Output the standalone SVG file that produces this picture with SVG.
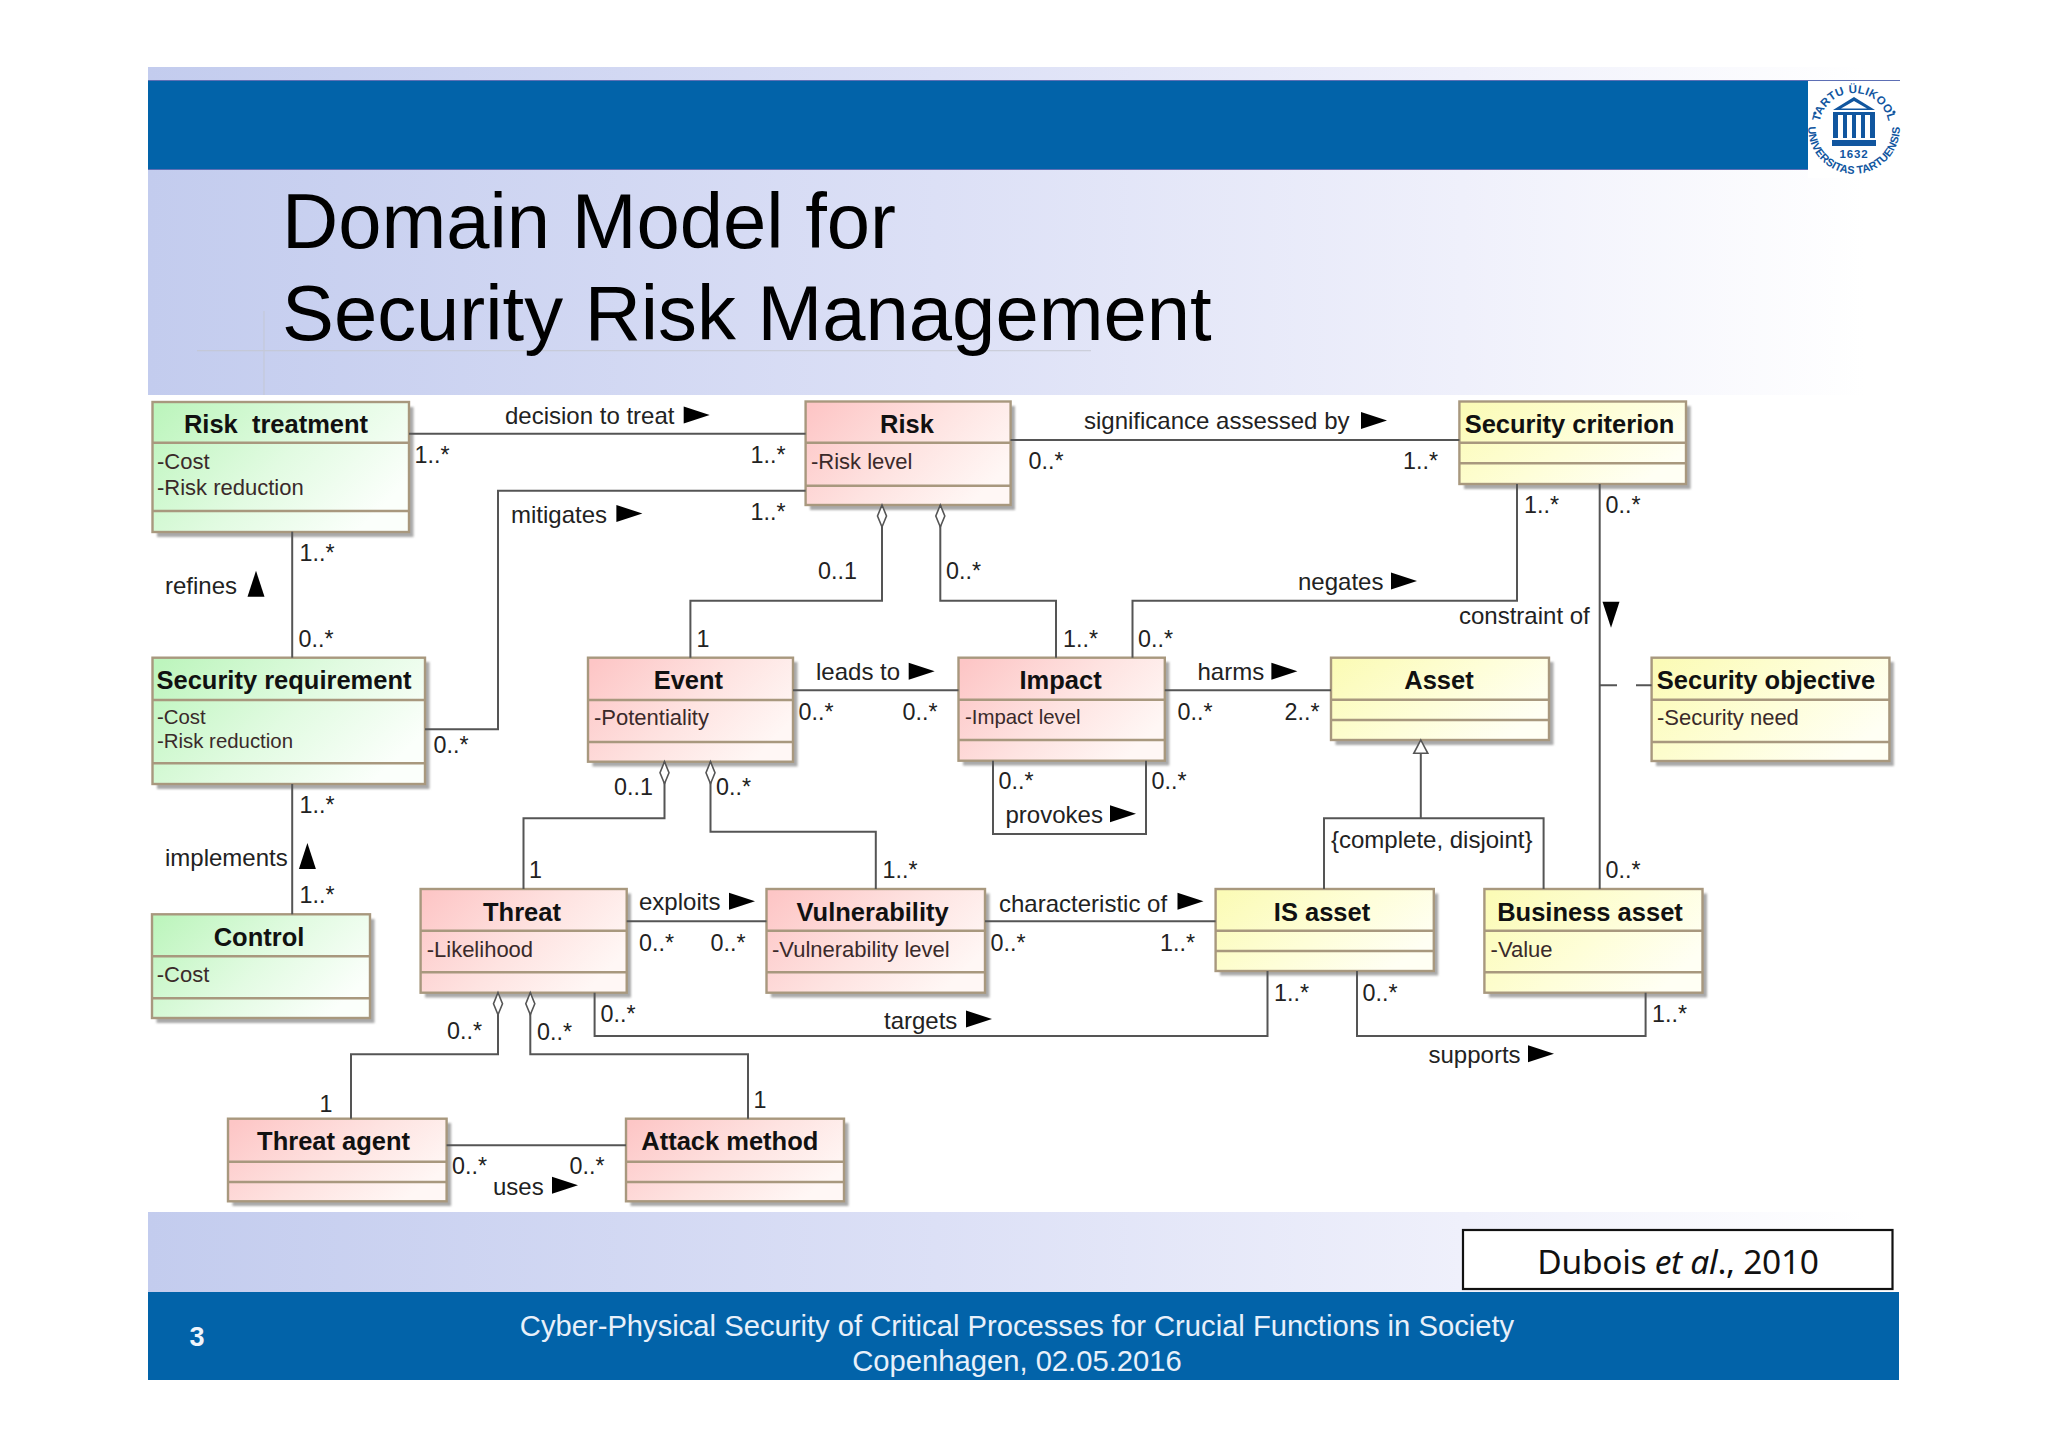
<svg xmlns="http://www.w3.org/2000/svg" width="2048" height="1447" viewBox="0 0 2048 1447">
<style>
text{font-family:"Liberation Sans",Arial,sans-serif;fill:#222}
.t{font-size:25.5px;font-weight:bold;fill:#111;text-anchor:middle}
.a{font-size:22px;fill:#3a2a2a}
.as{font-size:20.4px;fill:#3a2a2a}
.l{font-size:24px}
.m{font-size:23.3px}
.box{stroke:#a8987e;stroke-width:2.4}
.div{stroke:#a8987e;stroke-width:2.4;fill:none}
.sh{fill:#a9a9a9}
.c{fill:none;stroke:#555;stroke-width:2}
.g{fill:url(#gg)} .p{fill:url(#pp)} .y{fill:url(#yy)}
.d{fill:#fff;stroke:#555;stroke-width:1.6}
.logo{fill:#11569f;font-weight:bold}
.ft{font-size:29.2px;fill:#e8f0fa;text-anchor:middle}
</style>
<defs>
<linearGradient id="bg" x1="0" x2="1" y1="0" y2="0"><stop offset="0" stop-color="#c3ccee"/><stop offset=".45" stop-color="#dce0f6"/><stop offset=".75" stop-color="#eff0fb"/><stop offset=".98" stop-color="#fff"/></linearGradient>
<linearGradient id="gg" x1="0" x2="1" y1="0.1" y2="0.6"><stop offset="0" stop-color="#bdf5bd"/><stop offset=".55" stop-color="#e2fbe2"/><stop offset="1" stop-color="#fbfffb"/></linearGradient>
<linearGradient id="pp" x1="0" x2="1" y1="0.1" y2="0.6"><stop offset="0" stop-color="#fdc6c6"/><stop offset=".55" stop-color="#fee3e1"/><stop offset="1" stop-color="#fff7f5"/></linearGradient>
<linearGradient id="yy" x1="0" x2="1" y1="0.1" y2="0.6"><stop offset="0" stop-color="#fbfbb6"/><stop offset=".55" stop-color="#fefed8"/><stop offset="1" stop-color="#fffff4"/></linearGradient>
<path id="tri" d="M0,-8.5L26,0L0,8.5Z" fill="#000"/>
<filter id="bl" x="-5%" y="-5%" width="110%" height="110%"><feGaussianBlur stdDeviation="1"/></filter>
<path id="topArc" d="M1819,128A35,35 0 0 1 1889,128"/>
<path id="botArc" d="M1808.900,120A45.800,45.800 0 1 0 1899.100,120"/>
</defs>
<rect width="2048" height="1447" fill="#fff"/>
<g id="slide">
<rect x="148" y="67" width="1752" height="328" fill="url(#bg)"/>
<rect x="148" y="1212" width="1752" height="80" fill="url(#bg)"/>
<path d="M197,350.700H1091M264,311V395" stroke="#c3c6cf" stroke-width="1.200" fill="none" opacity=".7"/>
<rect x="148" y="81" width="1660" height="88" fill="#0263a9"/>
<path d="M148,80.500H1900M148,169.500H1808" stroke="#5d6fb5" stroke-width="1.200" fill="none"/>
<rect x="148" y="1292" width="1751" height="88" fill="#0263a9"/>
<text x="282" y="248" font-size="77.800" style="fill:#000">Domain Model for</text>
<text x="282" y="340" font-size="77.800" style="fill:#000">Security Risk Management</text>
<text x="197" y="1346" font-size="27" font-weight="bold" text-anchor="middle" style="fill:#f0f5fb">3</text>
<text class="ft" x="1017" y="1336">Cyber-Physical Security of Critical Processes for Crucial Functions in Society</text>
<text class="ft" x="1017" y="1371">Copenhagen, 02.05.2016</text>
<rect x="1463" y="1230" width="429.500" height="59" fill="#fff" stroke="#111" stroke-width="2.200"/>
<text x="1678" y="1274" font-size="33.500" text-anchor="middle" letter-spacing="-.3" style="font-family:'Noto Sans','DejaVu Sans',sans-serif;fill:#111">Dubois <tspan font-style="italic">et al</tspan>., 2010</text>
</g>
<g id="logo">
<rect x="1808" y="82" width="92" height="96" fill="#fff"/>
<text class="logo" font-size="11.500" letter-spacing=".3"><textPath href="#topArc" startOffset="50%" text-anchor="middle">TARTU ÜLIKOOL</textPath></text>
<text class="logo" font-size="11"><textPath href="#botArc" startOffset="50%" text-anchor="middle">UNIVERSITAS TARTUENSIS</textPath></text>
<circle cx="1815" cy="113" r="1.600" fill="#11569f"/><circle cx="1894" cy="112" r="1.600" fill="#11569f"/>
<path d="M1854,97L1875,110H1833ZM1854,101L1841,108.500H1867Z" fill="#11569f" fill-rule="evenodd"/>
<path d="M1833,112h42v3h-42zM1833,115h5v23h-5zM1843,115h4v23h-4zM1852,115h4v23h-4zM1861,115h4v23h-4zM1870,115h5v23h-5zM1832,140h44v6h-44z" fill="#11569f"/>
<text class="logo" x="1854" y="157.500" font-size="11.500" text-anchor="middle" letter-spacing=".8">1632</text>
</g>
<g id="risk-treatment">
<rect class="sh" x="157" y="407" width="256.500" height="130" filter="url(#bl)"/>
<rect class="box g" x="152.500" y="402" width="256.500" height="130"/>
<path class="div" d="M152.500,442.700H409M152.500,511H409"/>
<text class="t" x="276" y="432.700" xml:space="preserve">Risk  treatment</text>
<text class="a" x="157" y="469">-Cost</text><text class="a" x="157" y="495">-Risk reduction</text>
</g>
<g id="risk">
<rect class="sh" x="810" y="406" width="205" height="104" filter="url(#bl)"/>
<rect class="box p" x="805.600" y="401.500" width="205" height="103.500"/>
<path class="div" d="M805.600,442.700H1010.500M805.600,485.700H1010.500"/>
<text class="t" x="907" y="432.700">Risk</text>
<text class="a" x="811" y="469">-Risk level</text>
</g>
<g id="security-criterion">
<rect class="sh" x="1464" y="406" width="226.600" height="83" filter="url(#bl)"/>
<rect class="box y" x="1459.400" y="401.500" width="226.600" height="82.500"/>
<path class="div" d="M1459.400,442.700H1686M1459.400,463.300H1686"/>
<text class="t" x="1569.500" y="432.700">Security criterion</text>
</g>
<g id="security-requirement">
<rect class="sh" x="157" y="662" width="272.500" height="127" filter="url(#bl)"/>
<rect class="box g" x="152.500" y="657.700" width="272.500" height="126.300"/>
<path class="div" d="M152.500,700H425M152.500,763.300H425"/>
<text class="t" x="284" y="688.800">Security requirement</text>
<text class="as" x="157" y="724">-Cost</text><text class="as" x="157" y="747.700">-Risk reduction</text>
</g>
<g id="event">
<rect class="sh" x="592.500" y="662" width="205" height="104.500" filter="url(#bl)"/>
<rect class="box p" x="588" y="657.700" width="205" height="104"/>
<path class="div" d="M588,700H793M588,742H793"/>
<text class="t" x="688.400" y="688.800">Event</text>
<text class="a" x="594" y="725">-Potentiality</text>
</g>
<g id="impact">
<rect class="sh" x="963" y="662" width="206.300" height="103.500" filter="url(#bl)"/>
<rect class="box p" x="958.500" y="657.700" width="206.300" height="103"/>
<path class="div" d="M958.500,699.700H1164.800M958.500,740H1164.800"/>
<text class="t" x="1060.600" y="688.800">Impact</text>
<text class="as" x="965" y="724">-Impact level</text>
</g>
<g id="asset">
<rect class="sh" x="1335.500" y="662" width="218" height="83" filter="url(#bl)"/>
<rect class="box y" x="1331" y="657.700" width="218" height="82.300"/>
<path class="div" d="M1331,699.700H1549M1331,720H1549"/>
<text class="t" x="1439" y="688.800">Asset</text>
</g>
<g id="security-objective">
<rect class="sh" x="1656" y="662" width="237.800" height="104" filter="url(#bl)"/>
<rect class="box y" x="1651.600" y="657.700" width="237.800" height="103.300"/>
<path class="div" d="M1651.600,699.700H1889.400M1651.600,742H1889.400"/>
<text class="t" x="1766" y="688.800">Security objective</text>
<text class="a" x="1657" y="725">-Security need</text>
</g>
<g id="control">
<rect class="sh" x="156.500" y="919" width="218" height="104" filter="url(#bl)"/>
<rect class="box g" x="152" y="914.300" width="218" height="103.700"/>
<path class="div" d="M152,956.300H370M152,998.300H370"/>
<text class="t" x="259" y="945.500">Control</text>
<text class="a" x="156.800" y="981.700">-Cost</text>
</g>
<g id="threat">
<rect class="sh" x="425" y="893.500" width="206" height="104" filter="url(#bl)"/>
<rect class="box p" x="420.600" y="889" width="206.100" height="103.700"/>
<path class="div" d="M420.600,930.700H626.700M420.600,972.300H626.700"/>
<text class="t" x="522" y="920.500">Threat</text>
<text class="a" x="426.700" y="956.700">-Likelihood</text>
</g>
<g id="vulnerability">
<rect class="sh" x="771" y="893.500" width="218.500" height="104" filter="url(#bl)"/>
<rect class="box p" x="766.500" y="889" width="218.500" height="103.700"/>
<path class="div" d="M766.500,930.700H985M766.500,972.300H985"/>
<text class="t" x="872.600" y="920.500">Vulnerability</text>
<text class="a" x="772" y="956.700">-Vulnerability level</text>
</g>
<g id="is-asset">
<rect class="sh" x="1220" y="893.500" width="218.200" height="82" filter="url(#bl)"/>
<rect class="box y" x="1215.600" y="889" width="218.200" height="82"/>
<path class="div" d="M1215.600,930.700H1433.800M1215.600,951H1433.800"/>
<text class="t" x="1322" y="920.500">IS asset</text>
</g>
<g id="business-asset">
<rect class="sh" x="1489" y="893.500" width="218" height="104" filter="url(#bl)"/>
<rect class="box y" x="1484.400" y="889" width="218.100" height="103.700"/>
<path class="div" d="M1484.400,930.700H1702.500M1484.400,972.300H1702.500"/>
<text class="t" x="1590" y="920.500">Business asset</text>
<text class="a" x="1490.600" y="956.700">-Value</text>
</g>
<g id="threat-agent">
<rect class="sh" x="232.500" y="1123" width="218.600" height="83" filter="url(#bl)"/>
<rect class="box p" x="228" y="1118.700" width="218.600" height="82.600"/>
<path class="div" d="M228,1161.700H446.600M228,1182H446.600"/>
<text class="t" x="333.600" y="1150">Threat agent</text>
</g>
<g id="attack-method">
<rect class="sh" x="630.500" y="1123" width="218" height="83" filter="url(#bl)"/>
<rect class="box p" x="626" y="1118.700" width="218" height="82.600"/>
<path class="div" d="M626,1161.700H844M626,1182H844"/>
<text class="t" x="729.800" y="1150">Attack method</text>
</g>
<g id="connectors">
<path class="c" d="M409,433.700H805.600"/>
<path class="c" d="M425,729.300H498V490.700H805.600"/>
<path class="c" d="M292.200,531.700V657.700"/>
<path class="c" d="M292.200,784V914.300"/>
<path class="c" d="M1010.500,440H1459.400"/>
<path class="c" d="M882,505V600.700H690.400V657.700"/>
<path class="c" d="M940.300,505V600.700H1056V657.700"/>
<path class="c" d="M1517,484V600.700H1132.500V657.700"/>
<path class="c" d="M1599.700,484V889"/>
<path class="c" d="M1599.700,685.300H1617M1636,685.300H1651.600"/>
<path class="c" d="M793,690.300H958.500"/>
<path class="c" d="M1164.800,690.300H1331"/>
<path class="c" d="M993,760.700V834H1146V760.700"/>
<path class="c" d="M1420.800,753.300V818.300M1324,889V818.300H1543.600V889"/>
<path class="c" d="M664.500,761.700V818.300H523.500V889"/>
<path class="c" d="M710.500,761.700V831.700H875.800V889"/>
<path class="c" d="M626.700,921.300H766.500"/>
<path class="c" d="M985,921.300H1215.600"/>
<path class="c" d="M594.600,992.700V1036H1267.500V971"/>
<path class="c" d="M1357,971V1036H1645.600V992.700"/>
<path class="c" d="M498,992.700V1054.300H351V1118.700"/>
<path class="c" d="M530.300,992.700V1054.300H748V1118.700"/>
<path class="c" d="M446.600,1145.300H626"/>
<use href="#tri" x="683.700" y="415"/>
<use href="#tri" x="616.400" y="513.500"/>
<use href="#tri" transform="translate(256,596.700) rotate(-90)"/>
<use href="#tri" transform="translate(307.400,869) rotate(-90)"/>
<use href="#tri" x="1361" y="420.500"/>
<use href="#tri" x="1391" y="581"/>
<use href="#tri" transform="translate(1611,601.700) rotate(90)"/>
<use href="#tri" x="908.700" y="671.300"/>
<use href="#tri" x="1271.400" y="671.300"/>
<use href="#tri" x="1110" y="813.800"/>
<use href="#tri" x="729" y="901.300"/>
<use href="#tri" x="552" y="1185.300"/>
<use href="#tri" x="1177.500" y="901.300"/>
<use href="#tri" x="966" y="1019"/>
<use href="#tri" x="1528" y="1053.700"/>
<path class="d" d="M882,505l4.500,11l-4.500,11l-4.500,-11Z"/>
<path class="d" d="M940.300,505l4.500,11l-4.500,11l-4.500,-11Z"/>
<path class="d" d="M664.500,761.700l4.500,11l-4.500,11l-4.500,-11Z"/>
<path class="d" d="M710.500,761.700l4.500,11l-4.500,11l-4.500,-11Z"/>
<path class="d" d="M498,992.700l4.500,11l-4.500,11l-4.500,-11Z"/>
<path class="d" d="M530.300,992.700l4.500,11l-4.500,11l-4.500,-11Z"/>
<path class="d" d="M1420.800,740l7,13.300h-14Z"/>
<text class="l" x="505" y="423.500">decision to treat</text>
<text class="l" x="511" y="523">mitigates</text>
<text class="l" x="165" y="594">refines</text>
<text class="l" x="165" y="866">implements</text>
<text class="l" x="1084" y="428.500">significance assessed by</text>
<text class="l" x="1298" y="590">negates</text>
<text class="l" x="1459" y="624">constraint of</text>
<text class="l" x="816" y="680">leads to</text>
<text class="l" x="1197.500" y="680">harms</text>
<text class="l" x="1005.500" y="823">provokes</text>
<text class="l" x="1331" y="848">{complete, disjoint}</text>
<text class="l" x="639" y="910">exploits</text>
<text class="l" x="493" y="1195">uses</text>
<text class="l" x="999" y="911.500">characteristic of</text>
<text class="l" x="884" y="1029">targets</text>
<text class="l" x="1428.500" y="1062.500">supports</text>
<text class="m" x="414.500" y="463">1..*</text>
<text class="m" x="750.500" y="463">1..*</text>
<text class="m" x="750.500" y="520">1..*</text>
<text class="m" x="299.500" y="561">1..*</text>
<text class="m" x="298.500" y="647">0..*</text>
<text class="m" x="696.500" y="647">1</text>
<text class="m" x="433.500" y="753">0..*</text>
<text class="m" x="798.500" y="720">0..*</text>
<text class="m" x="614" y="795">0..1</text>
<text class="m" x="716" y="795">0..*</text>
<text class="m" x="299.500" y="813">1..*</text>
<text class="m" x="529" y="878">1</text>
<text class="m" x="299.500" y="903">1..*</text>
<text class="m" x="1028.500" y="469">0..*</text>
<text class="m" x="1403" y="469">1..*</text>
<text class="m" x="1524" y="513">1..*</text>
<text class="m" x="1605.500" y="513">0..*</text>
<text class="m" x="818" y="579">0..1</text>
<text class="m" x="946" y="579">0..*</text>
<text class="m" x="1063" y="647">1..*</text>
<text class="m" x="1138" y="647">0..*</text>
<text class="m" x="902.500" y="720">0..*</text>
<text class="m" x="1177.500" y="720">0..*</text>
<text class="m" x="1284.500" y="720">2..*</text>
<text class="m" x="998.500" y="789">0..*</text>
<text class="m" x="1151.500" y="789">0..*</text>
<text class="m" x="882.500" y="878">1..*</text>
<text class="m" x="1605.500" y="878">0..*</text>
<text class="m" x="639" y="951">0..*</text>
<text class="m" x="710.500" y="951">0..*</text>
<text class="m" x="600.500" y="1021.500">0..*</text>
<text class="m" x="447" y="1039">0..*</text>
<text class="m" x="537" y="1040">0..*</text>
<text class="m" x="319.500" y="1111.500">1</text>
<text class="m" x="753.500" y="1107.500">1</text>
<text class="m" x="452" y="1174">0..*</text>
<text class="m" x="569.500" y="1174">0..*</text>
<text class="m" x="990.500" y="951">0..*</text>
<text class="m" x="1160" y="951">1..*</text>
<text class="m" x="1274" y="1000.500">1..*</text>
<text class="m" x="1362.500" y="1000.500">0..*</text>
<text class="m" x="1652" y="1021.500">1..*</text>
</g>
</svg>
